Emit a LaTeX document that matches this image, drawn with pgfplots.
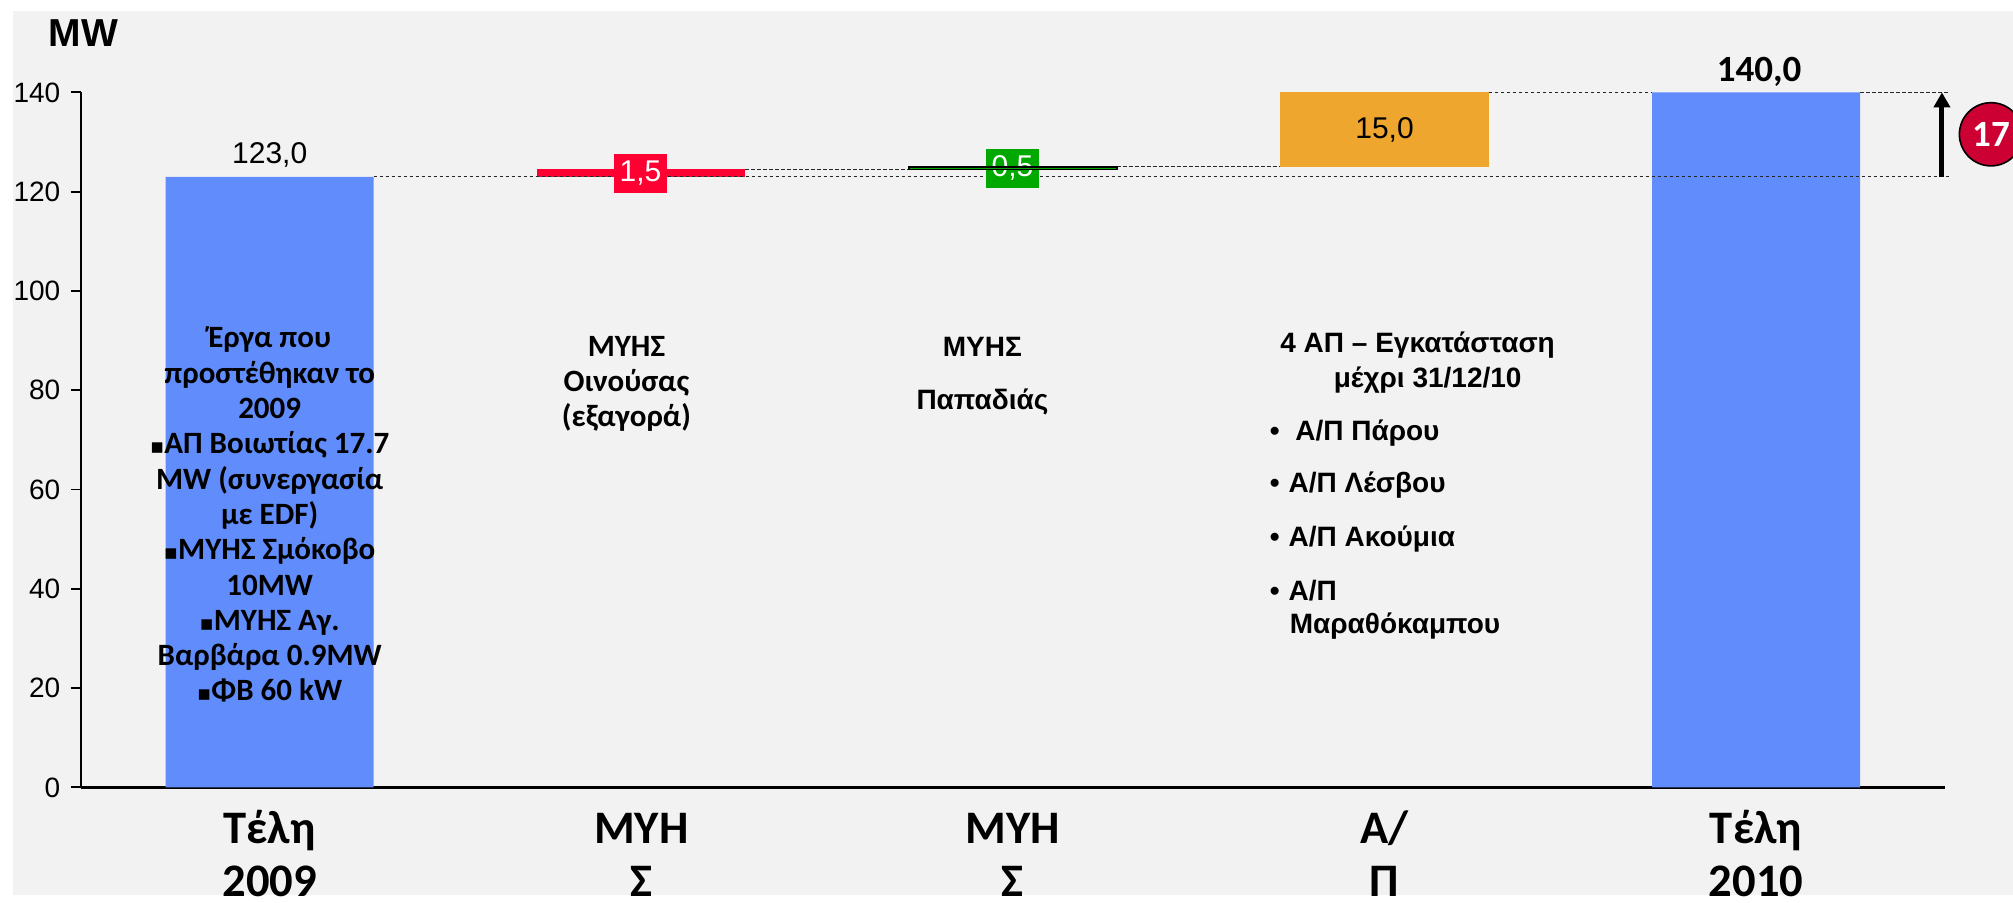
\documentclass[border=0pt]{standalone}
\usepackage{fontspec}
\setmainfont{Liberation Sans}
\newfontfamily\calibri{Carlito}
\newfontfamily\symfont{DejaVu Sans}
\usepackage{pgfplots}
\pgfplotsset{compat=1.18}
\usetikzlibrary{arrows.meta}

\definecolor{panel}{RGB}{242,242,242}
\definecolor{barblue}{RGB}{97,140,252}
\definecolor{barred}{RGB}{255,0,51}
\definecolor{bargreen}{RGB}{0,168,0}
\definecolor{barorange}{RGB}{238,166,47}
\definecolor{badge}{RGB}{204,0,51}

\newcommand{\sq}{{\symfont\fontsize{10.5}{10}\selectfont ▪}}

% common geometry of the stacked layers
\pgfplotsset{
  frame/.style={
    at={(40.45pt,57.8pt)}, anchor=south west,
    scale only axis, width=932pt, height=347.5pt,
    xmin=-0.508, xmax=4.508, ymin=0, ymax=140,
    clip=false,
  },
  conn/.style={black!85, line width=0.6pt, dash pattern=on 1.8pt off 1.2pt},
}

\begin{document}
\begin{tikzpicture}
\path[use as bounding box, fill=white] (0,0) rectangle (1006.5pt,451.5pt);
\fill[panel] (6.4pt,4pt) rectangle (1010pt,445.75pt);

% waterfall bars
\begin{axis}[
  frame,
  ybar stacked, bar width=0.56,
  axis lines*=left,
  axis line style={-},
  x axis line style={line width=1.6pt},
  y axis line style={line width=0.9pt},
  xtick={0,1,2,3,4},
  xticklabels={{Τέλη\\2009},{ΜΥΗ\\Σ},{ΜΥΗ\\Σ},{Α/\\Π},{Τέλη\\2010}},
  xtick style={draw=none},
  xticklabel style={font=\calibri\bfseries\fontsize{23.3}{26.4}\selectfont,
    align=center, anchor=base, inner sep=0pt, yshift=-49.6pt},
  ytick={0,20,...,140},
  tick align=outside, major tick length=5pt,
  ytick style={line width=0.9pt, black},
  yticklabel style={font=\fontsize{14}{14}\selectfont, xshift=-1.8pt},
  /pgf/number format/assume math mode=true,
]
\addplot[draw=none, fill=none] coordinates {(0,0) (1,123) (2,124.5) (3,125) (4,0)};
\addplot[draw=none, fill=barblue] coordinates {(0,123) (1,0) (2,0) (3,0) (4,140)};
\addplot[draw=none, fill=barred] coordinates {(0,0) (1,1.5) (2,0) (3,0) (4,0)};
\addplot[draw=none, fill=barorange] coordinates {(0,0) (1,0) (2,0) (3,15) (4,0)};
\end{axis}

% connectors and total change arrow
\begin{axis}[frame, hide axis, no markers]
\addplot[conn] coordinates {(0.28,123) (4.52,123)};
\addplot[conn] coordinates {(1.28,124.5) (1.72,124.5)};
\addplot[conn] coordinates {(2.28,125) (2.72,125)};
\addplot[conn] coordinates {(3.28,140) (3.72,140)};
\addplot[conn] coordinates {(4.28,140) (4.52,140)};
\addplot[black, line width=2.5pt, -{Triangle[width=8pt,length=7.5pt]}]
  coordinates {(4.5,123) (4.5,140)};
\end{axis}

% small green step, labels and notes
\begin{axis}[frame, hide axis, ybar stacked, bar width=0.56]
\addplot[draw=none, fill=none] coordinates {(2,124.5)};
\addplot[draw=black, line width=0.8pt, fill=bargreen] coordinates {(2,0.5)};

\node[anchor=base west, font=\bfseries\fontsize{19.5}{19.5}\selectfont]
  at (axis cs:-0.614,149.2) {MW};

\node[anchor=base, font=\fontsize{15}{15}\selectfont] at (axis cs:0,125.7) {123,0};
\node[anchor=base, font=\fontsize{15}{15}\selectfont] at (axis cs:3,130.75) {15,0};
\node[anchor=base, font=\calibri\bfseries\fontsize{18.5}{18.5}\selectfont]
  at (axis cs:4.008,142.16) {140,0};
\node[fill=barred, text=white, inner sep=0pt, minimum width=26.8pt, minimum height=19.3pt,
  font=\fontsize{15}{15}\selectfont] at (axis cs:0.998,123.7) {1,5};
\node[fill=bargreen, text=white, inner sep=0pt, minimum width=26.3pt, minimum height=19.3pt,
  font=\fontsize{15}{15}\selectfont] at (axis cs:1.999,124.7) {0,5};

\node[circle, fill=badge, draw=black, line width=0.8pt, minimum size=31.6pt, inner sep=0pt,
  text=white, font=\calibri\bfseries\fontsize{18.5}{18.5}\selectfont]
  at (axis cs:4.632,131.56) {17};

% note inside the 2009 bar (anchored at the baseline of its last line)
\node[anchor=base, align=center, font=\calibri\bfseries\fontsize{15.5}{17.65}\selectfont]
  at (axis cs:0,17.42) {Έργα που\\προστέθηκαν το\\2009\\\sq ΑΠ Βοιωτίας 17.7\\MW (συνεργασία\\με EDF)\\\sq ΜΥΗΣ Σμόκοβο\\10MW\\\sq ΜΥΗΣ Αγ.\\Βαρβάρα 0.9MW\\\sq ΦΒ 60 kW};

\node[anchor=base, align=center, font=\calibri\bfseries\fontsize{15.5}{17.5}\selectfont]
  at (axis cs:0.96,72.6) {ΜΥΗΣ\\Οινούσας\\(εξαγορά)};

\node[anchor=base, align=center, font=\bfseries\fontsize{14}{26.3}\selectfont]
  at (axis cs:1.918,76.16) {ΜΥΗΣ\\Παπαδιάς};

\node[anchor=base, font=\bfseries\fontsize{14}{14}\selectfont] at (axis cs:3.089,87.56) {4 ΑΠ – Εγκατάσταση};
\node[anchor=base, font=\bfseries\fontsize{14}{14}\selectfont] at (axis cs:3.116,80.6) {μέχρι 31/12/10};
\node[anchor=base, font=\bfseries\fontsize{14}{14}\selectfont] at (axis cs:2.705,69.83) {•};
\node[anchor=base, font=\bfseries\fontsize{14}{14}\selectfont] at (axis cs:2.705,59.36) {•};
\node[anchor=base, font=\bfseries\fontsize{14}{14}\selectfont] at (axis cs:2.705,48.5) {•};
\node[anchor=base, font=\bfseries\fontsize{14}{14}\selectfont] at (axis cs:2.705,37.7) {•};
\node[anchor=base west, inner sep=0pt, font=\bfseries\fontsize{14}{14}\selectfont] at (axis cs:2.759,69.83) {Α/Π Πάρου};
\node[anchor=base west, inner sep=0pt, font=\bfseries\fontsize{14}{14}\selectfont] at (axis cs:2.741,59.36) {Α/Π Λέσβου};
\node[anchor=base west, inner sep=0pt, font=\bfseries\fontsize{14}{14}\selectfont] at (axis cs:2.741,48.5) {Α/Π Ακούμια};
\node[anchor=base west, inner sep=0pt, font=\bfseries\fontsize{14}{14}\selectfont] at (axis cs:2.741,37.7) {Α/Π};
\node[anchor=base west, inner sep=0pt, font=\bfseries\fontsize{14}{14}\selectfont] at (axis cs:2.744,31.0) {Μαραθόκαμπου};
\end{axis}
\end{tikzpicture}
\end{document}
